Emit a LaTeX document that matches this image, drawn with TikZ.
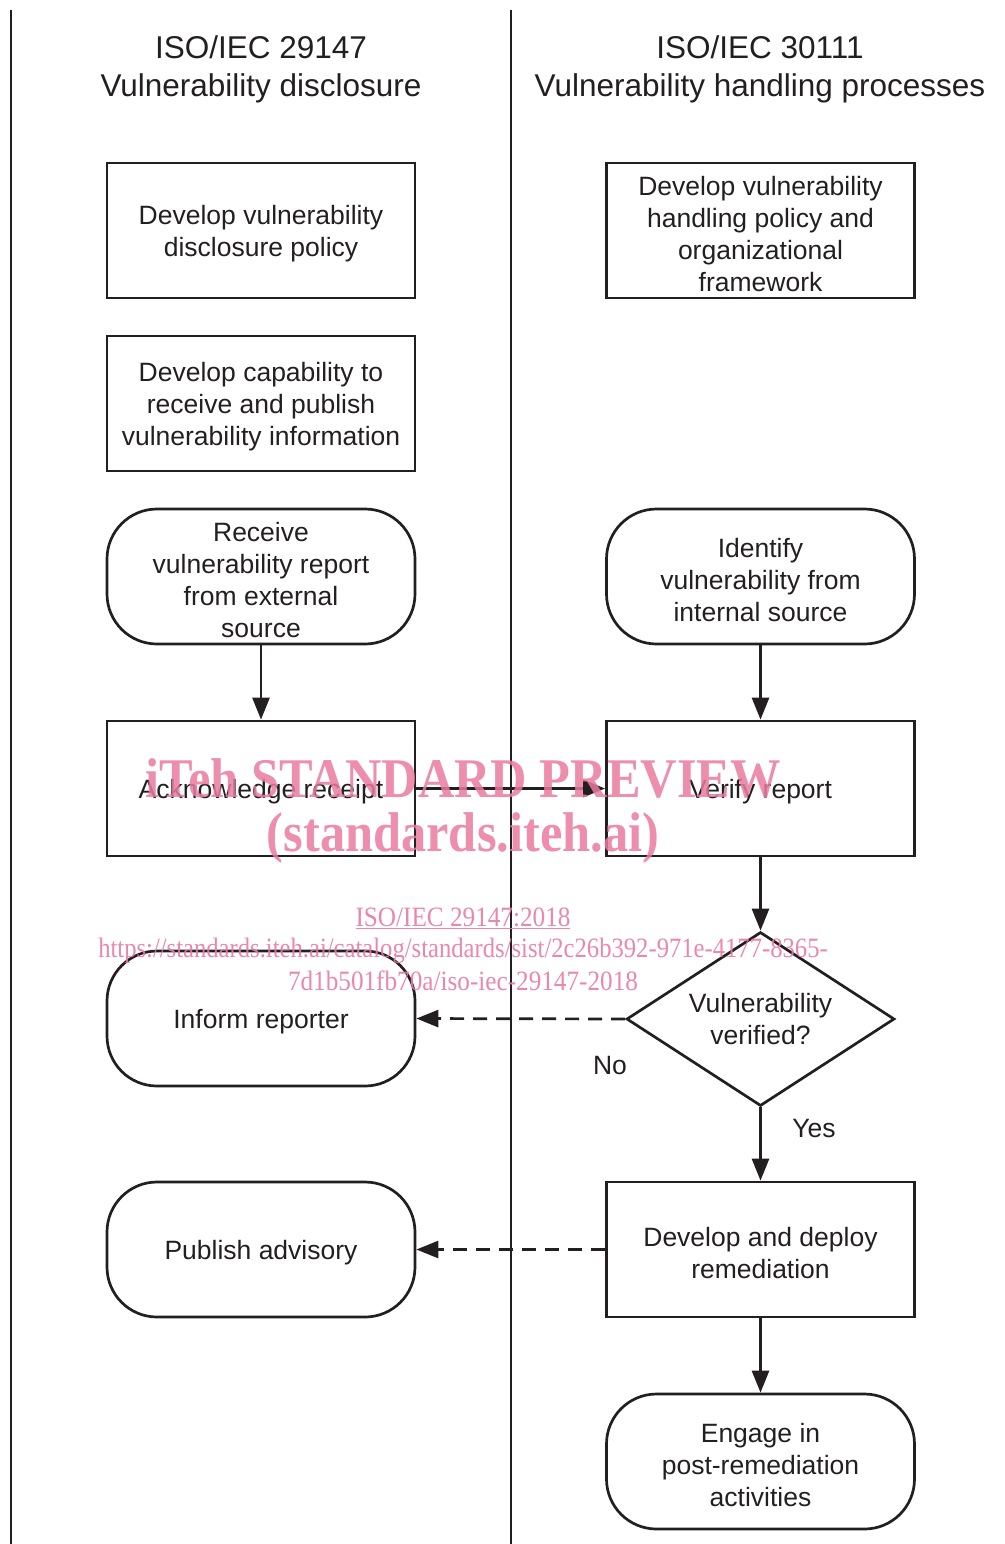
\documentclass[tikz,border=0pt]{standalone}
\usepackage{fontspec}
\setmainfont{Liberation Sans}
\newfontfamily\wmfont{Liberation Serif}
\usetikzlibrary{shapes.geometric,arrows.meta}
\definecolor{ink}{RGB}{35,31,32}
\definecolor{wmpink}{RGB}{233,122,157}
\begin{document}
\begin{tikzpicture}[x=1pt,y=-1pt,
  every node/.style={text=ink},
  boxtxt/.style={font=\fontsize{26.5}{32}\selectfont, align=center, inner sep=0pt},
  intext/.style={label={[boxtxt, yshift=-3.5pt]center:#1}},
  procbox/.style={draw=ink, line width=2.7pt, rectangle, minimum width=308, minimum height=135, inner sep=0pt},
  termbox/.style={procbox, rounded corners=50pt},
  decbox/.style={boxtxt, draw=ink, line width=2.7pt, diamond, minimum width=268, minimum height=174, inner sep=0pt, aspect=1.54},
  conn/.style={draw=ink, line width=2.7pt, -{Triangle[length=22pt,width=17pt]}},
  dconn/.style={conn, dash pattern=on 14pt off 9pt},
  lanehead/.style={font=\fontsize{31.5}{38}\selectfont, align=center},
  lbl/.style={font=\fontsize{26.5}{32}\selectfont},
  wmbig/.style={text=wmpink, opacity=0.85, font=\wmfont\bfseries\fontsize{56}{60}\selectfont},
  wmsmall/.style={text=wmpink, opacity=0.9, font=\wmfont\fontsize{28}{32}\selectfont}
]
\useasboundingbox (0,0) rectangle (1004,1544);
% lane separators
\draw[ink, line width=2.8pt] (11,10) -- (11,1544);
\draw[ink, line width=2.8pt] (511,10) -- (511,1544);
% headings
\node[lanehead] (hl) at (261,69) {ISO/IEC 29147\\Vulnerability disclosure};
\node[lanehead] (hr) at (760,69) {ISO/IEC 30111\\Vulnerability handling processes};
% left lane
\node[procbox, intext={Develop vulnerability\\disclosure policy}] (pol) at (261,230.5) {};
\node[procbox, intext={Develop capability to\\receive and publish\\vulnerability information}] (cap) at (261,403.5) {};
\node[termbox, intext={Receive\\vulnerability report\\from external\\source}] (rcv) at (261,576.5) {};
\node[procbox, intext={Acknowledge receipt}] (ack) at (261,788.5) {};
\node[termbox, intext={Inform reporter}] (inf) at (261,1018.5) {};
\node[termbox, intext={Publish advisory}] (pub) at (261,1249.5) {};
% right lane
\node[procbox, intext={Develop vulnerability\\handling policy and\\organizational\\framework}] (hpol) at (760.5,230.5) {};
\node[termbox, intext={Identify\\vulnerability from\\internal source}] (idn) at (760.5,576.5) {};
\node[procbox, intext={Verify report}] (ver) at (760.5,788.5) {};
\node[decbox] (dec) at (760.5,1019) {Vulnerability\\verified?};
\node[procbox, intext={Develop and deploy\\remediation}] (rem) at (760.5,1249.5) {};
\node[termbox, intext={Engage in\\post-remediation\\activities}] (eng) at (760.5,1461.5) {};
% connectors
\draw[conn] (rcv) -- (ack);
\draw[conn] (idn) -- (ver);
\draw[conn] (ack) -- (ver);
\draw[conn] (ver) -- (dec);
\draw[dconn] (dec.west) -- (inf.east);
\draw[conn] (dec.south) -- (rem.north);
\draw[dconn] (rem.west) -- (pub.east);
\draw[conn] (rem) -- (eng);
\node[lbl] (no) at (610,1066) {No};
\node[lbl] (yes) at (814,1128) {Yes};
% watermark
\node[wmbig] (wm1) at (463,778) {\scalebox{0.9}[1]{iTeh STANDARD PREVIEW}};
\node[wmbig] (wm2) at (463,838) {\scalebox{0.9}[1]{(standards.iteh.ai)}};
\node[wmsmall] (wm3) at (463,918) {\scalebox{0.9}[1]{\underline{ISO/IEC 29147:2018}}};
\node[wmsmall] (wm4) at (463,951) {\scalebox{0.88}[1]{https://standards.iteh.ai/catalog/standards/sist/2c26b392-971e-4177-8365-}};
\node[wmsmall] (wm5) at (463,981) {\scalebox{0.9}[1]{7d1b501fb70a/iso-iec-29147-2018}};
\end{tikzpicture}
\end{document}
